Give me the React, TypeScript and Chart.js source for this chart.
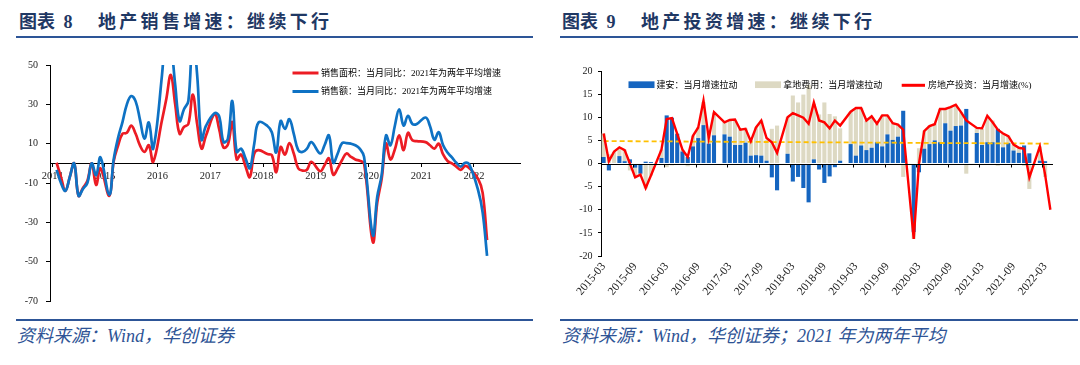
import React, { useEffect, useRef } from 'react';
import { Chart, registerables } from 'chart.js';

Chart.register(...registerables);

// ---------------- Left chart (图表 8) : monthly from 2014-01, January has no data ----------------
const LEFT_YEAR_TICKS = ['2014', '2015', '2016', '2017', '2018', '2019', '2020', '2021', '2022'];
const LEFT_Y_TICKS = [-70, -50, -30, -10, 10, 30, 50];
const AREA_LABEL = '销售面积：当月同比：2021年为两年平均增速';
const VALUE_LABEL = '销售额：当月同比：2021年为两年平均增速';

const SALES_AREA_YOY: (number | null)[] = [
  null, 0.3, -7, -14, -7, 0, -16.5, -12.5, -9, 0, -11, -2.5,
  null, -16.5, 1, 9, 15, 15.5, 19.2, 15, 9, 5.8, 9.2, 0.8,
  null, 22, 33, 45, 30, 15, 18.5, 20, 35, 20, 7.5, 14,
  null, 25, 17.5, 8, 9.5, 21, 2, 4.5, -1.5, -7, 5, 6.7,
  null, 4.7, 4.2, -4.5, 8.3, 4.5, 10.3, 5, -2.5, -3.7, -3.3, 0.8,
  null, -4, -1, 2.5, -5.8, -2.5, 1.7, 5, 3.3, 2, 1.3, 0,
  null, -40, -20, -8, 10, 2, 7, 14.2, 6.7, 15.5, 11.7, 11.3,
  null, 10.8, 9.2, 7.5, 10, 4.5, 1.2, 0, -1.7, -3.3, -1.3, -2.5,
  null, -8, -15, -39,
];

const SALES_VALUE_YOY: (number | null)[] = [
  null, -3.3, -10, -14, -7, 0, -16.5, -13, -10, 0, -6, 3,
  null, -16, 2, 13, 21, 30, 34.2, 31.5, 22, 12.5, 20.8, 7.5,
  null, 45, 72, 62, 40, 21.5, 27.5, 31.7, 65, 45, 12, 19,
  null, 25.5, 24, 10.8, 12.5, 31.7, 5.8, 7.5, 2.5, -2.5, 10, 20.8,
  null, 19, 15.8, 5.5, 21.5, 17.5, 22.5, 15, 6.7, 5.8, 7.5, 10.8,
  null, 5, 9.2, 14.2, 0.3, 5, 10.3, 10.3, 10, 9.2, 7.5, 3.3,
  null, -36.5, -17, -6, 14.2, 9.2, 19, 27.5, 19.2, 24.2, 20, 20,
  null, 23.3, 19, 12, 15.8, 9.2, 5.5, 3, 0.3, -1.7, 0.3, -0.8,
  null, -14, -25, -47,
];

// ---------------- Right chart (图表 9) : monthly 2015-03 .. 2022-04 ----------------
const RIGHT_LABELS: string[] = [];
for (let y = 2015, m = 3; y < 2022 || (y === 2022 && m <= 4); ) {
  RIGHT_LABELS.push(`${y}-${String(m).padStart(2, '0')}`);
  m += 1;
  if (m > 12) { m = 1; y += 1; }
}
const CONSTR_LABEL = '建安：当月增速拉动';
const LAND_LABEL = '拿地费用：当月增速拉动';
const INVEST_LABEL = '房地产投资：当月增速(%)';

const CONSTRUCTION_PULL: (number | null)[] = [
  1.4, -1.5, 0, 1.6, 0.5, 0.9, -0.9, -2.2, 0.4, 0.3, null, 1.2,
  10.4, 9.9, 6.4, 2.6, 1.4, 3.7, 5.5, 8.3, 4.3, 6.1, null, 6.3,
  5.8, 4.0, 4.0, 4.5, 1.7, 1.8, 1.7, 0.6, -3.0, -5.8, null, 2.1,
  -3.9, -2.9, -5.3, -8.4, 0.9, -1.3, -4.2, -2.8, -0.8, 0.6, null, 4.2,
  1.7, 3.9, 2.9, 3.4, 4.6, 3.7, 6.3, 5.1, 5.8, 11.4, null, -14.8,
  -1.9, 3.2, 4.2, 5.0, 4.6, 8.7, 7.1, 8.1, 8.2, 11.8, null, 6.6,
  4.0, 4.6, 4.6, 7.5, 3.5, 4.4, 2.8, 2.3, 3.9, 2.2, null, 0.6,
  0.5, null,
];

const LAND_PULL: (number | null)[] = [
  5.1, 2.0, 2.5, 1.8, 2.5, -1.5, -2.0, -0.3, -5.4, -2.6, null, 1.8,
  -0.8, -0.4, 0.2, 0.4, -0.6, 2.3, 2.3, 5.0, 2.5, 4.9, null, 2.8,
  3.5, 5.2, 3.6, 3.1, 3.5, 6.0, 7.6, 4.5, 7.5, 8.2, null, 7.9,
  14.7, 13.2, 14.9, 17.0, 12.0, 10.6, 13.2, 10.7, 10.2, 7.0, null, 7.0,
  10.1, 8.1, 6.4, 6.6, 4.0, 6.7, 4.1, 3.6, 2.6, -2.9, null, -1.5,
  3.3, 3.9, 4.0, 3.6, 7.2, 3.1, 5.1, 4.6, 2.9, -2.2, null, 1.0,
  3.5, 5.4, 4.7, -0.5, 3.0, 1.6, 1.2, 1.0, -0.5, -5.5, null, 3.1,
  -2.9, null,
];

const INVEST_YOY: (number | null)[] = [
  6.5, 0.5, 2.6, 3.5, 2.9, 0.0, -3.0, -2.4, -5.3, -2.6, null, 3.0,
  9.6, 9.8, 6.4, 3.0, 1.4, 6.0, 7.8, 13.6, 5.5, 11.1, null, 8.9,
  9.4, 9.5, 7.3, 7.5, 4.8, 7.8, 9.3, 5.5, 4.6, 2.3, null, 10.0,
  10.9, 10.4, 9.9, 8.6, 13.2, 9.3, 8.9, 7.6, 9.3, 8.2, null, 11.2,
  12.0, 12.0, 9.3, 10.2, 8.6, 10.4, 10.4, 8.7, 8.4, 7.3, null, -16.3,
  0.0, 7.0, 8.1, 8.5, 11.8, 11.8, 12.2, 12.7, 11.1, 9.3, null, 7.7,
  7.6, 10.3, 8.9, 7.3, 6.5, 5.9, 4.1, 3.4, 3.2, -3.0, null, 3.7,
  -2.4, -10.0,
];

// dashed average guide: value read at the first and last month
const AVG_START = 4.85;
const AVG_END = 4.3;
const RIGHT_Y_TICKS = [-20, -15, -10, -5, 0, 5, 10, 15, 20];

// ---------------- styling ----------------
const SERIF = '"Liberation Serif", "Times New Roman", serif';
const MIXED = '"Liberation Serif", "Noto Sans CJK SC", serif';
const L_RED = '#EC1C24';
const L_BLUE = '#0E72C4';
const R_RED = '#FF0000';
const R_BLUE = '#1565C0';
const R_BEIGE = '#DDD9C3';
const R_YELLOW = '#FFC000';
const NAVY = '#1F3864';
const RULE = '#2D5597';

const customLegend = {
  id: 'customLegend',
  afterDraw(chart: any, _args: any, opts: any) {
    const items = (opts && opts.items) || [];
    const ctx = chart.ctx;
    ctx.save();
    items.forEach((it: any) => {
      const ds = chart.data.datasets[it.datasetIndex];
      const color = it.kind === 'box' ? ds.backgroundColor : ds.borderColor;
      if (it.kind === 'line') {
        ctx.strokeStyle = color;
        ctx.lineWidth = it.lineWidth || 3;
        ctx.beginPath();
        ctx.moveTo(it.x, it.y);
        ctx.lineTo(it.x + it.w, it.y);
        ctx.stroke();
      } else {
        ctx.fillStyle = color;
        ctx.fillRect(it.x, it.y - it.h / 2, it.w, it.h);
      }
      ctx.fillStyle = opts.color || '#000';
      ctx.font = opts.font;
      ctx.textAlign = 'left';
      ctx.textBaseline = 'middle';
      ctx.fillText(ds.label, it.x + it.w + it.gap, it.y + 0.5);
    });
    ctx.restore();
  },
};

const zeroAxis = {
  id: 'zeroAxis',
  afterDatasetsDraw(chart: any, _args: any, opts: any) {
    const { ctx, chartArea, scales } = chart;
    const y0 = Math.round(scales.y.getPixelForValue(0)) + 0.5;
    ctx.save();
    ctx.strokeStyle = '#000';
    ctx.lineWidth = 1;
    ctx.beginPath();
    ctx.moveTo(chartArea.left, y0);
    ctx.lineTo(chartArea.right, y0);
    ctx.stroke();
    const xs = scales.x;
    const half = (xs.getPixelForValue(1) - xs.getPixelForValue(0)) / 2;
    const n = chart.data.labels.length;
    for (let i = opts.every; i < n; i += opts.every) {
      const px = Math.round(xs.getPixelForValue(i) - half) + 0.5;
      ctx.beginPath();
      ctx.moveTo(px, y0);
      ctx.lineTo(px, y0 + opts.tickLength);
      ctx.stroke();
    }
    ctx.restore();
  },
};

function leftConfig(): any {
  const lineBase = { pointRadius: 0, borderWidth: 2.7, tension: 0.4, spanGaps: true, fill: false, clip: 0 };
  return {
    type: 'line',
    data: {
      datasets: [
        { ...lineBase, label: VALUE_LABEL, borderColor: L_BLUE, data: SALES_VALUE_YOY.map((v, i) => ({ x: i, y: v })) },
        { ...lineBase, label: AREA_LABEL, borderColor: L_RED, data: SALES_AREA_YOY.map((v, i) => ({ x: i, y: v })) },
      ],
    },
    options: {
      responsive: false,
      animation: false,
      events: [],
      layout: { padding: { top: 20, right: 11, bottom: 10, left: 0 } },
      plugins: {
        legend: { display: false },
        tooltip: { enabled: false },
        customLegend: {
          font: `9px ${MIXED}`,
          color: '#000',
          items: [
            { datasetIndex: 1, kind: 'line', x: 276.5, y: 28, w: 26, gap: 2.5, lineWidth: 3 },
            { datasetIndex: 0, kind: 'line', x: 276.5, y: 46.5, w: 26, gap: 2.5, lineWidth: 3 },
          ],
        },
      },
      scales: {
        x: {
          type: 'linear',
          min: -0.5,
          max: 106.5,
          position: { y: 0 },
          afterBuildTicks: (s: any) => { s.ticks = LEFT_YEAR_TICKS.map((_, k) => ({ value: k * 12 })); },
          ticks: {
            autoSkip: false,
            maxRotation: 0,
            callback: (_v: any, i: number) => LEFT_YEAR_TICKS[i],
            font: { family: SERIF, size: 10.5 },
            color: '#222',
            padding: 4,
          },
          grid: { drawOnChartArea: false, drawTicks: true, tickLength: 3, color: '#000' },
          border: { display: true, color: '#000', width: 1 },
        },
        y: {
          type: 'linear',
          min: -70,
          max: 50,
          afterBuildTicks: (s: any) => { s.ticks = LEFT_Y_TICKS.map((v) => ({ value: v })); },
          afterFit: (s: any) => { s.width = 34; },
          ticks: { font: { family: SERIF, size: 10 }, color: '#222', padding: 8 },
          grid: { drawOnChartArea: false, drawTicks: true, tickLength: 4, color: '#000' },
          border: { display: true, color: '#000', width: 1 },
        },
      },
    },
    plugins: [customLegend],
  };
}

function rightConfig(): any {
  const last = RIGHT_LABELS.length - 1;
  const avg = RIGHT_LABELS.map((_, i) => (i === 0 ? AVG_START : i === last ? AVG_END : null));
  const barBase = { type: 'bar', stack: 'bars', barPercentage: 0.78, categoryPercentage: 1 };
  return {
    type: 'bar',
    data: {
      labels: RIGHT_LABELS,
      datasets: [
        { type: 'line', label: INVEST_LABEL, data: INVEST_YOY, borderColor: R_RED, backgroundColor: R_RED, borderWidth: 2.4, pointRadius: 0, tension: 0, spanGaps: true, stack: 'inv' },
        { type: 'line', label: '平均', data: avg, borderColor: R_YELLOW, borderWidth: 1.8, borderDash: [5, 3], pointRadius: 0, spanGaps: true, stack: 'avg' },
        { ...barBase, label: CONSTR_LABEL, data: CONSTRUCTION_PULL, backgroundColor: R_BLUE },
        { ...barBase, label: LAND_LABEL, data: LAND_PULL, backgroundColor: R_BEIGE },
      ],
    },
    options: {
      responsive: false,
      animation: false,
      events: [],
      layout: { padding: { top: 26, right: 11, bottom: 0, left: 0 } },
      plugins: {
        legend: { display: false },
        tooltip: { enabled: false },
        zeroAxis: { every: 6, tickLength: 3 },
        customLegend: {
          font: `9px ${MIXED}`,
          color: '#000',
          items: [
            { datasetIndex: 2, kind: 'box', x: 83.5, y: 39.7, w: 26, h: 6.7, gap: 2 },
            { datasetIndex: 3, kind: 'box', x: 210, y: 39.7, w: 26, h: 6.7, gap: 2.3 },
            { datasetIndex: 0, kind: 'line', x: 356.7, y: 40.3, w: 23.3, gap: 3, lineWidth: 3 },
          ],
        },
      },
      scales: {
        x: {
          stacked: true,
          offset: true,
          afterFit: (s: any) => { s.height = 54; },
          ticks: {
            autoSkip: false,
            maxRotation: 50,
            minRotation: 50,
            callback: (_v: any, i: number) => (i % 6 === 0 ? RIGHT_LABELS[i] : ''),
            font: { family: SERIF, size: 11.5 },
            color: '#222',
            padding: 4,
          },
          grid: { display: false, drawTicks: false },
          border: { display: false },
        },
        y: {
          stacked: true,
          min: -20,
          max: 20,
          afterBuildTicks: (s: any) => { s.ticks = RIGHT_Y_TICKS.map((v) => ({ value: v })); },
          afterFit: (s: any) => { s.width = 56; },
          ticks: { font: { family: SERIF, size: 10 }, color: '#222', padding: 5.5 },
          grid: { drawOnChartArea: false, drawTicks: true, tickLength: 3, color: '#000' },
          border: { display: true, color: '#000', width: 1 },
        },
      },
    },
    plugins: [zeroAxis, customLegend],
  };
}

const titleStyle: React.CSSProperties = {
  position: 'absolute',
  fontFamily: MIXED,
  fontWeight: 'bold',
  fontSize: 18,
  lineHeight: '24px',
  color: NAVY,
  whiteSpace: 'nowrap',
};
const sourceStyle: React.CSSProperties = {
  position: 'absolute',
  fontFamily: MIXED,
  fontStyle: 'italic',
  fontSize: 18,
  lineHeight: '22px',
  color: '#2E5395',
  whiteSpace: 'nowrap',
};
const ruleStyle = (left: number, top: number, width: number): React.CSSProperties => ({
  position: 'absolute', left, top, width, height: 2, background: RULE,
});

export default function App() {
  const leftRef = useRef<HTMLCanvasElement>(null);
  const rightRef = useRef<HTMLCanvasElement>(null);

  useEffect(() => {
    const l = new Chart(leftRef.current as HTMLCanvasElement, leftConfig());
    const r = new Chart(rightRef.current as HTMLCanvasElement, rightConfig());
    return () => { l.destroy(); r.destroy(); };
  }, []);

  return (
    <div style={{ position: 'fixed', left: 0, top: 0, width: 1080, height: 365, background: '#fff', overflow: 'hidden' }}>
      {/* left panel */}
      <div style={{ ...titleStyle, left: 19, top: 10, wordSpacing: 4 }}>图表 8</div>
      <div style={{ ...titleStyle, left: 98, top: 10, letterSpacing: 3.3 }}>地产销售增速：继续下行</div>
      <div style={ruleStyle(16, 36, 517)} />
      <canvas ref={leftRef} width={515} height={270} style={{ position: 'absolute', left: 16, top: 45, width: 515, height: 270 }} />
      <div style={ruleStyle(16, 319, 517)} />
      <div style={{ ...sourceStyle, left: 17, top: 325 }}>资料来源：Wind，华创证券</div>

      {/* right panel */}
      <div style={{ ...titleStyle, left: 562, top: 10, wordSpacing: 4 }}>图表 9</div>
      <div style={{ ...titleStyle, left: 641, top: 10, letterSpacing: 3.3 }}>地产投资增速：继续下行</div>
      <div style={ruleStyle(560, 36, 518)} />
      <canvas ref={rightRef} width={520} height={265} style={{ position: 'absolute', left: 545, top: 45, width: 520, height: 265 }} />
      <div style={ruleStyle(560, 319, 518)} />
      <div style={{ ...sourceStyle, left: 562, top: 325 }}>资料来源：Wind，华创证券；2021 年为两年平均</div>
    </div>
  );
}
